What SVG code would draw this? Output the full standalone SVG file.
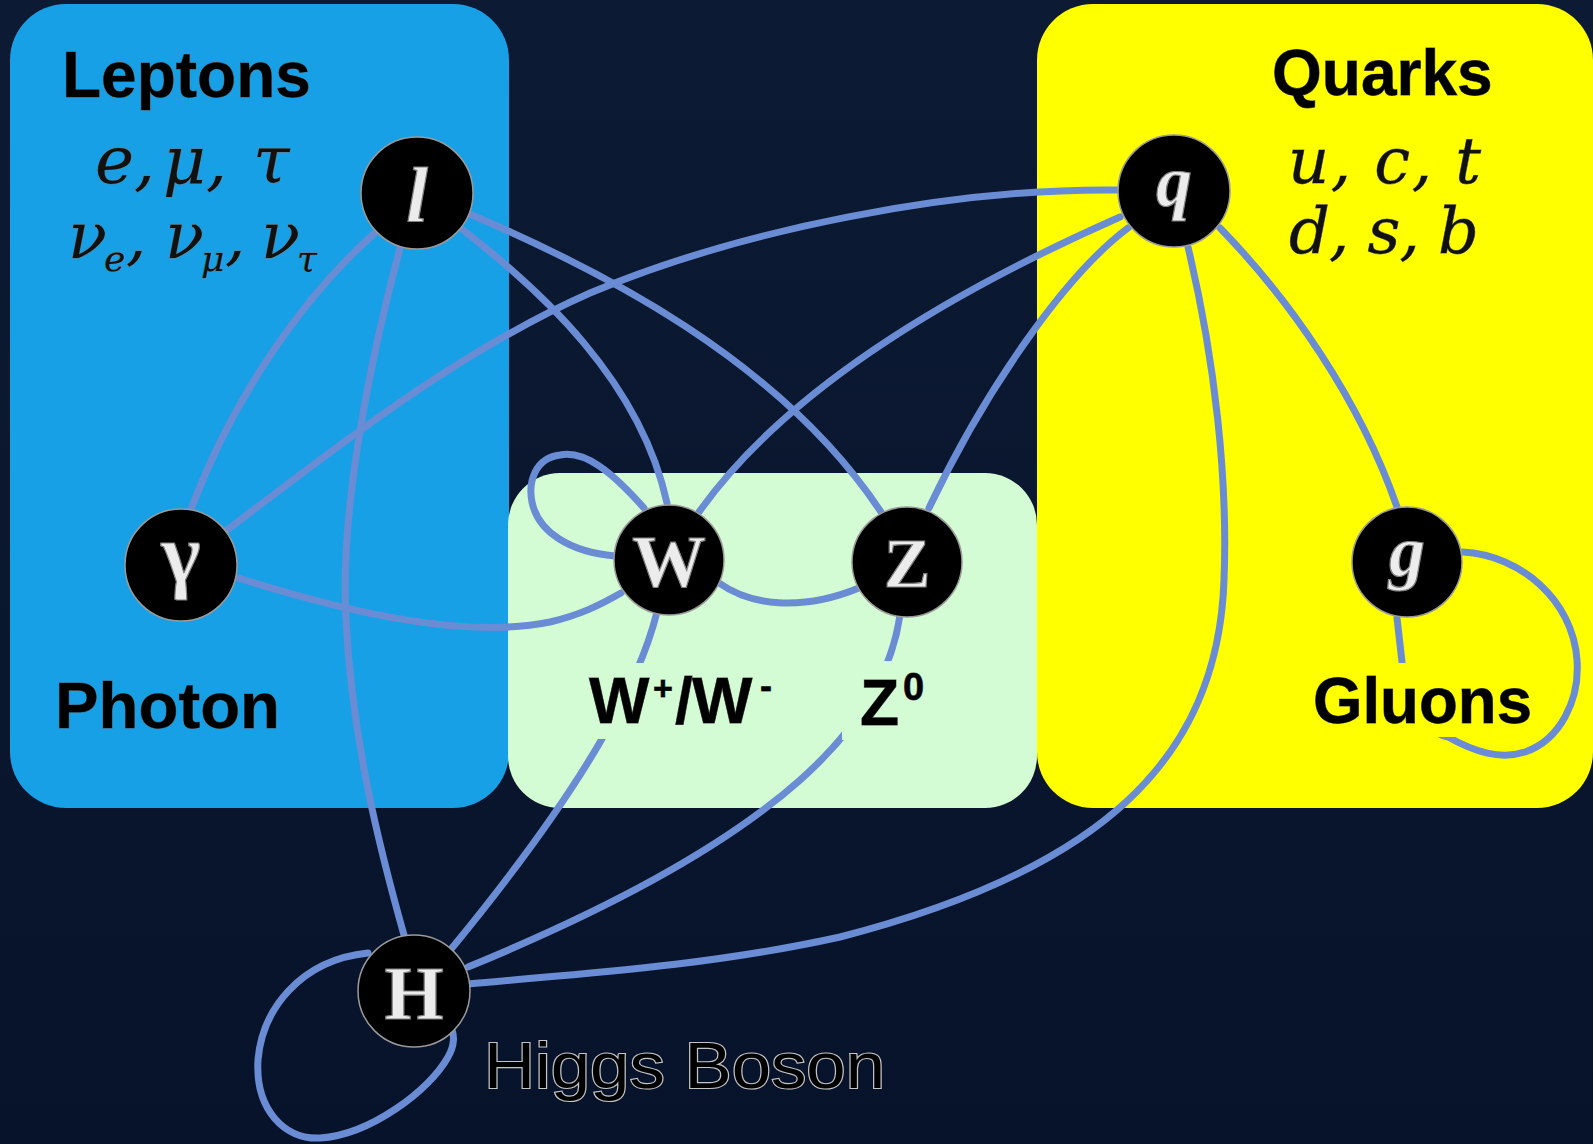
<svg xmlns="http://www.w3.org/2000/svg" width="1593" height="1144" viewBox="0 0 1593 1144">
<style>
.lbl{font-family:"Liberation Sans",Arial,sans-serif;font-weight:bold;fill:#000;stroke:#555;stroke-width:0.8;paint-order:stroke}
.math{font-family:"DejaVu Serif","Liberation Serif",serif;font-style:italic;fill:#111;stroke:#777;stroke-width:0.8;paint-order:stroke}
.node circle{fill:#000;stroke:#9a9a9a;stroke-width:1.5}
.glyph{font-family:"Liberation Serif","DejaVu Serif",serif;font-weight:bold;fill:#ececec;stroke:#808080;stroke-width:1.2;text-anchor:middle}
.conn path{fill:none;stroke:#6a8cd4;stroke-width:7;stroke-linecap:round;stroke-linejoin:round}
</style>
<defs>
<linearGradient id="bg" x1="0" y1="0" x2="0" y2="1">
<stop offset="0" stop-color="#0c1a33"/>
<stop offset="1" stop-color="#07132a"/>
</linearGradient>
<mask id="labelGaps" maskUnits="userSpaceOnUse" x="0" y="0" width="1593" height="1144">
<rect x="0" y="0" width="1593" height="1144" fill="#fff"/>
<rect x="580" y="663" width="195" height="76" fill="#000"/>
<rect x="842" y="661" width="90" height="79" fill="#000"/>
<rect x="1305" y="663" width="232" height="74" fill="#000"/>
</mask>
</defs>
<rect x="0" y="0" width="1593" height="1144" fill="url(#bg)"/>

<g id="regions">
<rect id="leptons-box" x="10" y="4" width="499" height="804" rx="56" fill="#18a0e6"/>
<rect id="bosons-box" x="508" y="473" width="529" height="335" rx="52" fill="#d4fcd4"/>
<rect id="quarks-box" x="1037" y="4" width="556" height="804" rx="56" fill="#ffff00"/>
</g>

<g id="region-labels">
<text class="lbl" x="62" y="97" font-size="64">Leptons</text>
<text class="math" font-size="66"><tspan x="95" y="183">e,</tspan><tspan x="163" y="183">μ,</tspan><tspan x="253" y="183">τ</tspan></text>
<text class="math" font-size="64"><tspan x="68" y="258">ν</tspan><tspan x="104" y="271" font-size="36">e</tspan><tspan x="126" y="258">,</tspan><tspan x="165" y="258">ν</tspan><tspan x="201" y="271" font-size="36">μ</tspan><tspan x="225" y="258">,</tspan><tspan x="261" y="258">ν</tspan><tspan x="297" y="271" font-size="36">τ</tspan></text>
<text class="lbl" x="1272" y="95" font-size="64">Quarks</text>
<text class="math" x="1288" y="183" font-size="64" textLength="193" lengthAdjust="spacing">u, c, t</text>
<text class="math" x="1289" y="253" font-size="64" textLength="190" lengthAdjust="spacing">d, s, b</text>
<text class="lbl" x="55" y="728" font-size="64" textLength="225" lengthAdjust="spacingAndGlyphs">Photon</text>
<text class="lbl" x="1313" y="723" font-size="64" textLength="219" lengthAdjust="spacingAndGlyphs">Gluons</text>
<text class="lbl" font-size="64"><tspan x="589" y="723">W</tspan><tspan x="653" y="700" font-size="34">+</tspan><tspan x="675" y="723">/</tspan><tspan x="692" y="723">W</tspan><tspan x="760" y="698" font-size="36">-</tspan></text>
<text class="lbl" font-size="64"><tspan x="860" y="725">Z</tspan><tspan x="903" y="700" font-size="38">0</tspan></text>
<text x="484" y="1088" font-family="Liberation Sans,Arial,sans-serif" font-size="64" fill="#000" stroke="#c4c4c4" stroke-width="2.2" paint-order="stroke" textLength="401" lengthAdjust="spacingAndGlyphs">Higgs Boson</text>
</g>

<g id="connectors" class="conn" mask="url(#labelGaps)">
<path id="l-photon" d="M376,232 C310,290 235,390 190,512"/>
<path id="l-H" d="M400,248 C365,380 340,520 346,620 C352,740 380,850 404,935"/>
<path id="l-W" d="M463,230 C540,290 640,380 667,503"/>
<path id="l-Z" d="M472,215 C600,270 780,360 881,512"/>
<path id="q-photon" d="M1118,190 C950,188 740,230 590,293 C450,355 320,460 227,530"/>
<path id="q-W" d="M1120,217 C1000,270 800,370 699,512"/>
<path id="q-Z" d="M1128,228 C1065,275 985,390 929,508"/>
<path id="q-H" d="M1188,247 C1215,360 1228,480 1224,580 C1218,760 1100,870 840,937 C700,968 560,975 468,984"/>
<path id="q-g" d="M1220,228 C1290,300 1360,400 1397,507"/>
<path id="photon-W" d="M235,577 C340,610 460,640 550,622 C580,615 600,605 621,593"/>
<path id="W-Z" d="M719,583 C750,605 800,612 859,588"/>
<path id="W-W" d="M644,508 C612,472 585,450 560,455 C535,458 528,482 532,502 C538,532 570,552 615,556"/>
<path id="W-H" d="M657,612 C640,680 590,780 452,948"/>
<path id="Z-H" d="M900,615 C885,720 790,835 468,967"/>
<path id="g-g" d="M1397,618 L1402,662 C1410,710 1425,732 1448,737 C1475,752 1500,760 1525,752 C1560,740 1580,700 1577,660 C1573,600 1520,555 1463,552"/>
<path id="H-H" d="M368,953 C300,960 262,1010 258,1060 C255,1110 285,1140 320,1138 C370,1135 430,1090 448,1057 C455,1045 454,1035 452,1030"/>
</g>

<g id="node-l" class="node"><circle cx="417" cy="193" r="56"/><text class="glyph" x="417" y="221" font-size="78" font-style="italic">l</text></g>
<g id="node-q" class="node"><circle cx="1174" cy="191" r="56"/><text class="glyph" x="1174" y="206" font-size="72" font-style="italic">q</text></g>
<g id="node-photon" class="node"><circle cx="181" cy="565" r="56"/><text class="glyph" x="181" y="582" font-size="84">γ</text></g>
<g id="node-W" class="node"><circle cx="669" cy="560" r="55"/><text class="glyph" x="669" y="587" font-size="74">W</text></g>
<g id="node-Z" class="node"><circle cx="907" cy="562" r="55"/><text class="glyph" x="907" y="587" font-size="70">Z</text></g>
<g id="node-g" class="node"><circle cx="1407" cy="562" r="55"/><text class="glyph" x="1407" y="576" font-size="72" font-style="italic">g</text></g>
<g id="node-H" class="node"><circle cx="414" cy="991" r="56"/><text class="glyph" x="414" y="1019" font-size="76">H</text></g>
</svg>
